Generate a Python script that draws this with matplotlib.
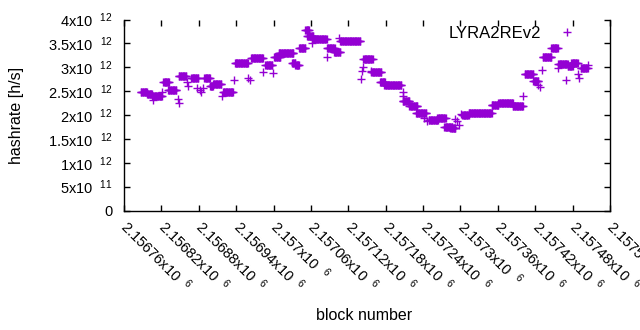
import numpy as np
import matplotlib
matplotlib.use("Agg")
import matplotlib.pyplot as plt
from matplotlib.ticker import FixedLocator

plt.rcParams["font.family"] = ["Liberation Sans", "DejaVu Sans"]
plt.rcParams["mathtext.fontset"] = "custom"
plt.rcParams["mathtext.rm"] = "Liberation Sans"
plt.rcParams["mathtext.it"] = "Liberation Sans"
plt.rcParams["mathtext.default"] = "regular"

# --- data: runs of blocks sharing the same hashrate estimate (value in 1e12 h/s) ---
run_start = [2156787, 2156797, 2156805, 2156823, 2156831, 2156848, 2156868, 2156889,
             2156898, 2156903, 2156919, 2156938, 2156964, 2156987, 2157001, 2157008,
             2157030, 2157035, 2157041, 2157051, 2157054, 2157062, 2157086, 2157097,
             2157107, 2157144, 2157157, 2157171, 2157178, 2157207, 2157218, 2157229,
             2157249, 2157263, 2157274, 2157284, 2157303, 2157313, 2157350, 2157361,
             2157384, 2157403, 2157417, 2157432, 2157446, 2157457, 2157472, 2157478,
             2157493]
run_end = [2156797, 2156805, 2156821, 2156832, 2156844, 2156860, 2156879, 2156898,
           2156903, 2156916, 2156935, 2156959, 2156983, 2156998, 2157011, 2157032,
           2157035, 2157041, 2157051, 2157057, 2157064, 2157085, 2157098, 2157107,
           2157139, 2157159, 2157173, 2157179, 2157205, 2157218, 2157231, 2157245,
           2157264, 2157276, 2157287, 2157292, 2157313, 2157350, 2157361, 2157384,
           2157400, 2157417, 2157425, 2157446, 2157456, 2157472, 2157480, 2157488,
           2157504]
run_value = [2.48, 2.44, 2.39, 2.70, 2.52, 2.81, 2.77, 2.77,
             2.61, 2.65, 2.48, 3.08, 3.20, 3.04, 3.21, 3.29,
             3.09, 3.05, 3.40, 3.78, 3.66, 3.60, 3.40, 3.32,
             3.54, 3.18, 2.91, 2.69, 2.63, 2.30, 2.19, 2.04,
             1.90, 1.93, 1.75, 1.72, 2.01, 2.05, 2.21, 2.26,
             2.19, 2.85, 2.72, 3.22, 3.41, 3.06, 3.02, 3.08,
             2.99]

# isolated blocks
extra_block = [2156807, 2156821, 2156847, 2156848, 2156861, 2156863, 2156877, 2156882,
               2156887, 2156884, 2156917, 2156937, 2156959, 2156962, 2156983, 2156999,
               2157062, 2157086, 2157105, 2157144, 2157142, 2157141, 2157157, 2157207,
               2157207, 2157242, 2157247, 2157292, 2157295, 2157298, 2157301, 2157401,
               2157425, 2157428, 2157431, 2157457, 2157469, 2157488, 2157491, 2157504]
extra_value = [2.31, 2.48, 2.33, 2.25, 2.69, 2.61, 2.56, 2.52,
               2.56, 2.48, 2.40, 2.73, 2.77, 2.73, 2.90, 2.88,
               3.51, 3.21, 3.61, 3.01, 2.92, 2.75, 2.92, 2.48,
               2.40, 1.94, 1.87, 1.92, 1.87, 1.79, 2.02, 2.40,
               2.63, 2.59, 2.94, 2.98, 2.73, 2.86, 2.78, 3.05]

x_ticks = [2156760, 2156820, 2156880, 2156940, 2157000, 2157060, 2157120,
           2157180, 2157240, 2157300, 2157360, 2157420, 2157480, 2157540]
x_tick_text = ["2.15676", "2.15682", "2.15688", "2.15694", "2.157", "2.15706", "2.15712",
               "2.15718", "2.15724", "2.1573", "2.15736", "2.15742", "2.15748", "2.15754"]
y_ticks = [0, 0.5e12, 1e12, 1.5e12, 2e12, 2.5e12, 3e12, 3.5e12, 4e12]
y_tick_text = ["0", "5x10", "1x10", "1.5x10", "2x10", "2.5x10", "3x10", "3.5x10", "4x10"]
y_tick_exp = ["", "11", "12", "12", "12", "12", "12", "12", "12"]

blocks = []
values = []
for s, e, v in zip(run_start, run_end, run_value):
    b = np.arange(s, e + 1)
    blocks.append(b)
    values.append(np.full(len(b), v))
blocks.append(np.array(extra_block))
values.append(np.array(extra_value))
blocks = np.concatenate(blocks)
values = np.concatenate(values) * 1e12


def sup_label(base, exp):
    if not exp:
        return base
    return base + r" $\ ^{" + exp + "}$"


fig = plt.figure(figsize=(6.4, 3.3), dpi=100)
ax = fig.add_axes([124 / 640, 1 - 210.5 / 330, 486 / 640, 191 / 330])

color = "#9400d3"
ax.plot(blocks, values, linestyle="none", marker="+", markersize=6,
        markeredgewidth=1.0, color=color, label="LYRA2REv2")

ax.set_xlim(2156760, 2157540)
ax.set_ylim(0, 4e12)

ax.xaxis.set_major_locator(FixedLocator(x_ticks))
ax.set_xticklabels([sup_label(t + "x10", "6") for t in x_tick_text], rotation=-45,
                   ha="left", va="center", rotation_mode="anchor", fontsize=10.5)
ax.yaxis.set_major_locator(FixedLocator(y_ticks))
ax.set_yticklabels([sup_label(t, e) for t, e in zip(y_tick_text, y_tick_exp)],
                   fontsize=10.5)

ax.spines["top"].set_visible(False)
for sp in ["left", "bottom", "right"]:
    ax.spines[sp].set_linewidth(1.0)
ax.tick_params(axis="both", direction="in", length=4, width=1.0,
               top=True, right=True, colors="black")
ax.tick_params(axis="y", pad=8)
ax.tick_params(axis="x", pad=9)

ax.set_xlabel("block number", fontsize=11.5)
ax.xaxis.set_label_coords((364 - 124) / 486, -(308 - 210.5) / 191)
ax.set_ylabel("hashrate [h/s]", fontsize=11.5)
ax.yaxis.set_label_coords(-(124 - 24) / 486, 0.5)

ax.legend(loc="upper right", bbox_to_anchor=(0.96, 1.0), frameon=False,
          markerfirst=False, handlelength=2.0, fontsize=12, handletextpad=0.55,
          borderaxespad=0.0)

fig.savefig("out.png", dpi=100)
